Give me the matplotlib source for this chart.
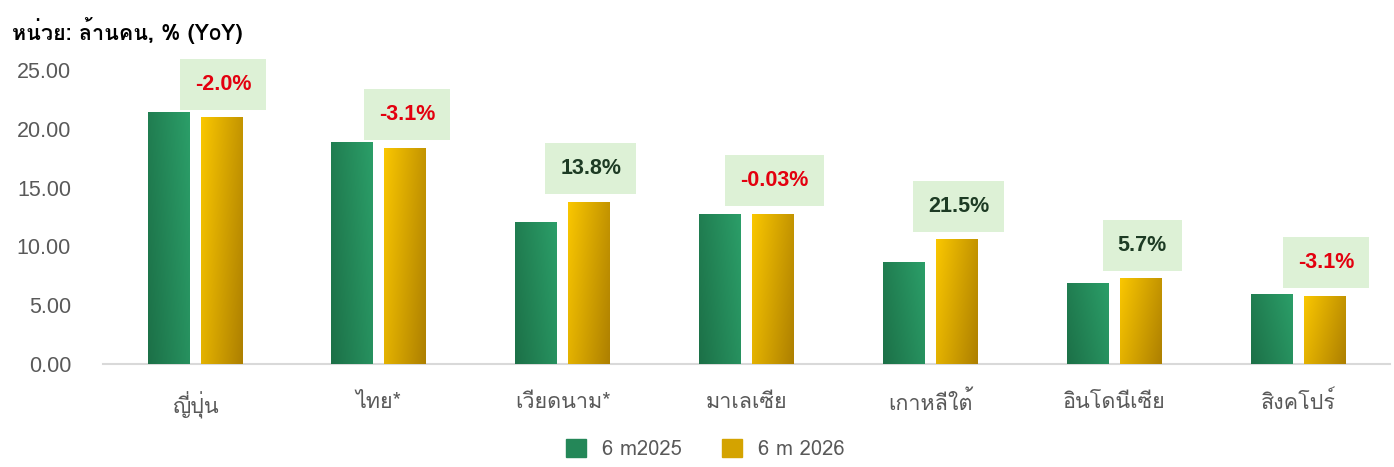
import numpy as np
import matplotlib
matplotlib.use('Agg')
import matplotlib.pyplot as plt
from matplotlib import font_manager
from matplotlib.ft2font import FT2Font
from matplotlib.patches import Patch

# data
countries = ['ญี่ปุ่น', 'ไทย*', 'เวียดนาม*', 'มาเลเซีย', 'เกาหลีใต้', 'อินโดนีเซีย', 'สิงคโปร์']
h1_2025 = [21.45, 18.9, 12.1, 12.77, 8.7, 6.9, 5.95]
h1_2026 = [21.0, 18.4, 13.8, 12.77, 10.6, 7.3, 5.8]
yoy_labels = ['-2.0%', '-3.1%', '13.8%', '-0.03%', '21.5%', '5.7%', '-3.1%']
series_names = ['6 m2025', '6 m 2026']

# look for an installed font that has Thai glyphs
thai_font = None
for f in font_manager.fontManager.ttflist:
    try:
        if 0x0E01 in FT2Font(f.fname).get_charmap():
            thai_font = f.name
            break
    except Exception:
        pass

fams = ['Liberation Sans', 'DejaVu Sans']
if thai_font:
    fams = [thai_font] + fams
plt.rcParams['font.family'] = fams

green_dark, green_light = np.array([0.11, 0.44, 0.28]), np.array([0.17, 0.62, 0.41])
gold_light, gold_dark = np.array([0.98, 0.78, 0.0]), np.array([0.68, 0.50, 0.0])

def gradient(c_a, c_b, flip):
    xx, yy = np.meshgrid(np.linspace(0, 1, 40), np.linspace(0, 1, 200))
    if flip:
        t = 0.7 * xx + 0.3 * (1 - yy)   # dark towards bottom-right
    else:
        t = 0.7 * xx + 0.3 * yy         # light towards top-right
    return c_a[None, None, :] * (1 - t[..., None]) + c_b[None, None, :] * t[..., None]

fig = plt.figure(figsize=(13.94, 4.67), dpi=100)
ax = fig.add_axes([103 / 1394, 1 - 364 / 467, (1390 - 103) / 1394, (364 - 70) / 467])

x = np.arange(len(countries))
w = 0.225
bars1 = ax.bar(x - 0.145, h1_2025, w, color=green_light, zorder=2)
bars2 = ax.bar(x + 0.143, h1_2026, w, color=gold_light, zorder=2)

img_g = gradient(green_dark, green_light, False)
img_y = gradient(gold_light, gold_dark, True)
for bars, img in [(bars1, img_g), (bars2, img_y)]:
    for b in bars:
        x0, y0 = b.get_x(), b.get_y()
        im = ax.imshow(img, extent=[x0, x0 + b.get_width(), y0, y0 + b.get_height()],
                       origin='lower', aspect='auto', zorder=3, interpolation='bilinear')
        im.set_clip_path(b)

for i, lab in enumerate(yoy_labels):
    col = '#e3000f' if lab.startswith('-') else '#1d3b24'
    ax.text(x[i] + 0.143 + 0.01, h1_2026[i] + 2.8, lab, ha='center', va='center',
            fontsize=15.5, fontweight='bold', color=col, family=['Liberation Sans'],
            bbox=dict(boxstyle='square,pad=0.7', fc='#ddf1d6', ec='none'),
            zorder=5, clip_on=False)

ax.set_xlim(-0.5, 6.5)
ax.set_ylim(0, 25)
ax.set_yticks([0, 5, 10, 15, 20, 25])
ax.set_yticklabels(['%.2f' % v for v in [0, 5, 10, 15, 20, 25]])
ax.set_xticks(x)
ax.set_xticklabels(countries)
ax.tick_params(axis='both', length=0, colors='#595959', labelsize=15.5)
ax.tick_params(axis='x', pad=20)
ax.tick_params(axis='y', pad=23)
for lbl in ax.get_yticklabels():
    lbl.set_family(['Liberation Sans'])
for s in ['top', 'right', 'left']:
    ax.spines[s].set_visible(False)
ax.spines['bottom'].set_color('#d9d9d9')
ax.spines['bottom'].set_linewidth(1.5)

fig.text(12 / 1394, 1 - 30 / 467, 'หน่วย: ล้านคน, % (YoY)', fontsize=15.5, fontweight='bold',
         color='black', va='center', ha='left')

handles = [Patch(color=(green_dark + green_light) / 2), Patch(color=(gold_light + gold_dark) / 2)]
fig.legend(handles, series_names, loc='center', bbox_to_anchor=(0.506, 1 - 449 / 467),
           ncol=2, frameon=False, fontsize=14.5, labelcolor='#595959',
           handlelength=1.0, handleheight=1.0, columnspacing=2.0, handletextpad=0.8)

fig.savefig('out.png', dpi=100)
